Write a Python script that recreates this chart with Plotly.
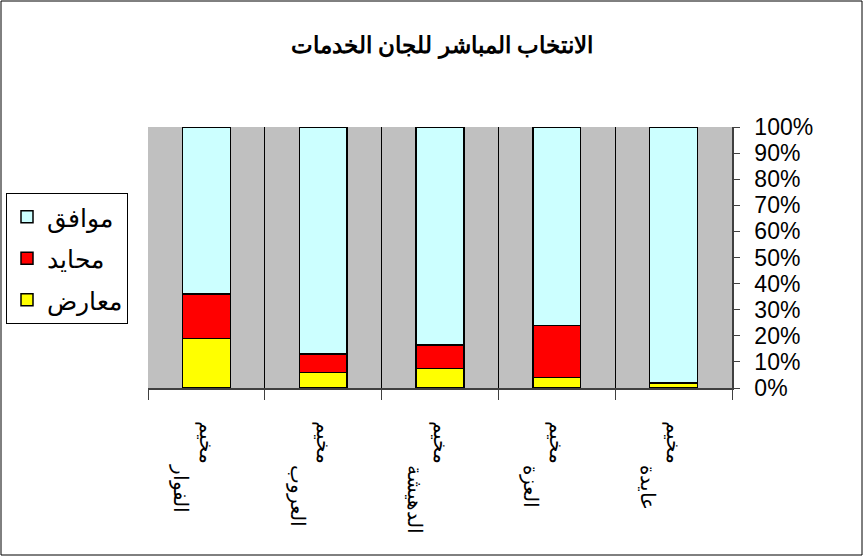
import plotly.graph_objects as go

camps = ["الفوار", "العروب", "الدهيشة", "العزة", "عايدة"]
PAD = "\u200e" + "\u00a0" * 8
categories = ["\u00a0<br>مخيم<br>" + PAD + c for c in camps]
oppose = [0.19, 0.06, 0.075, 0.04, 0.02]
neutral = [0.17, 0.07, 0.09, 0.20, 0.0]
agree = [0.64, 0.87, 0.835, 0.76, 0.98]

W, H = 864, 557
L, R, T, B = 148, 132, 127, 169
pw, ph = W - L - R, H - T - B

fig = go.Figure()
for name, vals, color, rank in [("معارض", oppose, "#FFFF00", 3), ("محايد", neutral, "#FF0000", 2),
                                ("موافق", agree, "#CCFFFF", 1)]:
    fig.add_trace(go.Bar(x=categories, y=vals, name=name, width=0.41,
                         marker=dict(color=color, line=dict(color="black", width=1.5)),
                         legendgroup=name, legendrank=rank))

fig.update_layout(
    width=W, height=H, barmode="stack",
    margin=dict(l=L, r=R, t=T, b=B, autoexpand=False),
    paper_bgcolor="white", plot_bgcolor="#C0C0C0",
    font=dict(family="Liberation Sans, Arial", color="black"),
    title=dict(text="<b>الانتخاب المباشر للجان الخدمات</b>", x=(442) / W, xanchor="center",
               y=1 - 45 / H, yanchor="middle", font=dict(size=23)),
    legend=dict(xref="container", yref="container", x=6 / W, y=1 - 193 / H,
                xanchor="left", yanchor="top",
                bgcolor="white", bordercolor="black", borderwidth=1,
                font=dict(size=25), traceorder="grouped", tracegroupgap=6,
                itemwidth=30),
    xaxis=dict(type="category", tickson="boundaries", showgrid=True, gridcolor="black", gridwidth=1,
               ticks="outside", ticklen=10, tickcolor="#404040", showline=True, linecolor="#404040",
               linewidth=2, tickangle=90, tickfont=dict(size=20), range=[-0.5, 4.5],
               ticklabelstandoff=27, automargin=False),
    yaxis=dict(side="right", range=[0, 1], dtick=0.1, tickformat=".0%", showgrid=False,
               ticks="outside", ticklen=6, tickcolor="#404040", showline=True, linecolor="#404040",
               linewidth=1.5, tickfont=dict(size=23), zeroline=False, ticklabelstandoff=10,
               automargin=False),
    shapes=[dict(type="rect", xref="paper", yref="paper",
                 x0=(1 - L) / pw, x1=(862 - L) / pw, y0=(388 - 555) / ph, y1=(388 - 1) / ph,
                 line=dict(color="black", width=1))],
)

fig.write_html("out.html", config={"displayModeBar": False},
               post_script="document.body.style.margin='0';document.body.style.overflow='hidden';")
